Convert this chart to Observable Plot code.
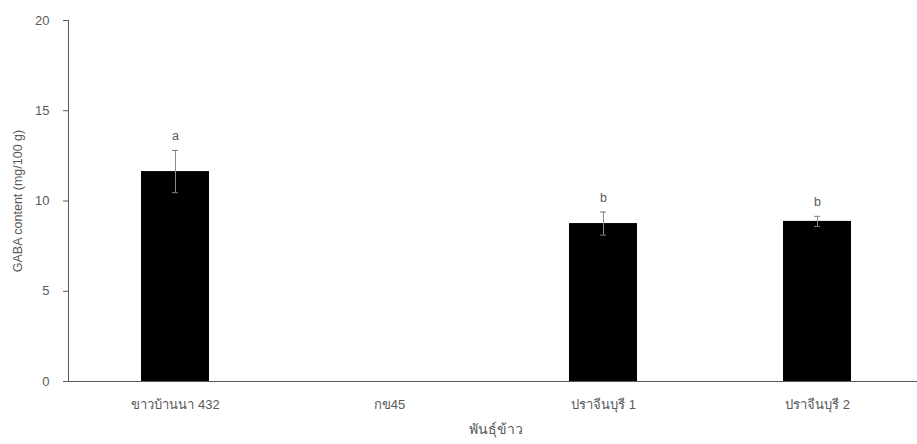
<!DOCTYPE html>
<html>
<head>
<meta charset="utf-8">
<script src="https://cdn.jsdelivr.net/npm/d3@7"></script>
<script src="https://cdn.jsdelivr.net/npm/@observablehq/plot@0.6"></script>
<style>
  html, body { margin: 0; padding: 0; background: #fff; }
  svg { font-family: "Liberation Sans", Arial, sans-serif; }
</style>
</head>
<body>
<div id="chart"></div>
<script>
const categories = ["ขาวบ้านนา 432", "กข45", "ปราจีนบุรี 1", "ปราจีนบุรี 2"];
const means = [11.63, 0, 8.75, 8.87];
const errors = [1.17, null, 0.64, 0.28];
const letters = ["a", "", "b", "b"];
const yTicks = [0, 5, 10, 15, 20];
const yLabel = "GABA content (mg/100 g)";
const xLabel = "พันธุ์ข้าว";

const data = categories.map((c, i) => ({cat: c, mean: means[i], err: errors[i], letter: letters[i]}));
const withErr = data.filter(d => d.err != null);

const chart = Plot.plot({
  width: 917,
  height: 444,
  marginLeft: 68,
  marginRight: 0,
  marginTop: 20,
  marginBottom: 63,
  style: {fontFamily: "'Liberation Sans', Arial, sans-serif", fontSize: "13px", color: "#595959", background: "#fff"},
  x: {domain: categories, range: [68, 924], paddingInner: 0.68, paddingOuter: 0.34, label: null},
  y: {domain: [0, 20], label: null},
  marks: [
    Plot.barY(data, {x: "cat", y: "mean", fill: "#000"}),
    Plot.ruleX(withErr, {x: "cat", y1: d => d.mean - d.err, y2: d => d.mean + d.err, stroke: "#8c8c8c", strokeWidth: 1}),
    Plot.tickY(withErr, {x: "cat", y: d => d.mean + d.err, stroke: "#7f7f7f", insetLeft: 31, insetRight: 31}),
    Plot.tickY(withErr, {x: "cat", y: d => d.mean - d.err, stroke: "#7f7f7f", insetLeft: 31, insetRight: 31}),
    Plot.text(withErr, {x: "cat", y: d => d.mean + d.err, text: "letter", dy: -14, fill: "#595959", fontSize: 12.5}),
    Plot.axisY({ticks: yTicks, tickSize: 5, tickPadding: 14, label: null, stroke: "#595959", fill: "#595959", fontSize: 13}),
    Plot.axisX({tickSize: 0, tickPadding: 18, label: null, fill: "#595959", fontSize: 13}),
    Plot.frame({anchor: "left", stroke: "#595959"}),
    Plot.ruleY([0], {stroke: "#595959"}),
    Plot.text([yLabel], {frameAnchor: "left", textAnchor: "middle", rotate: -90, dx: -51, fill: "#595959", fontSize: 12.5}),
    Plot.text([xLabel], {frameAnchor: "bottom", textAnchor: "middle", dx: 3, dy: 52, fill: "#595959", fontSize: 14})
  ]
});
document.getElementById("chart").appendChild(chart);
</script>
</body>
</html>
